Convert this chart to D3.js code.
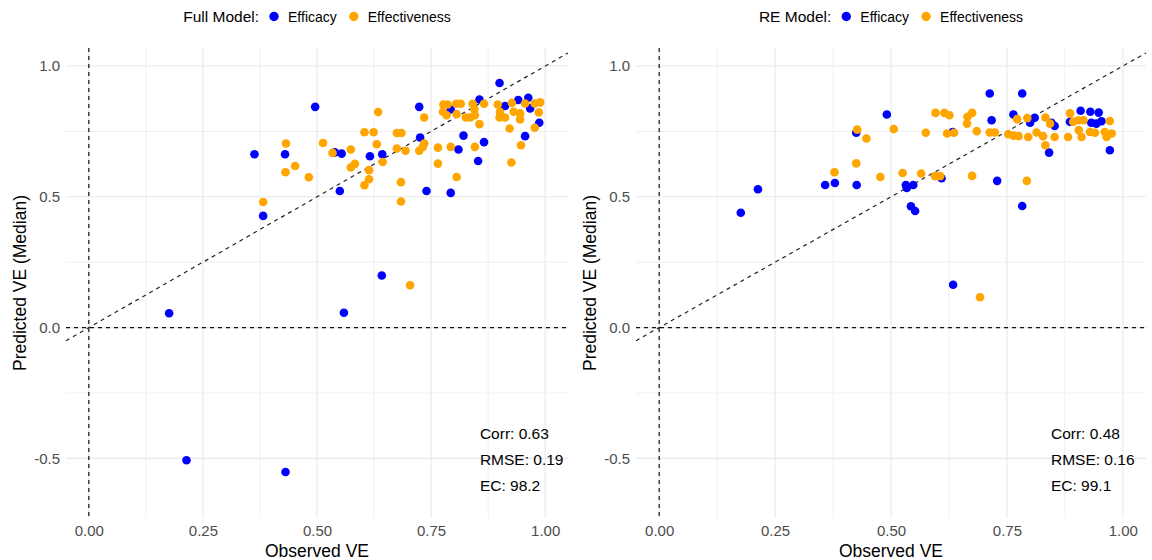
<!DOCTYPE html>
<html>
<head>
<meta charset="utf-8">
<title>Observed vs Predicted VE</title>
<style>
  body { margin: 0; background: #fff; }
  svg { display: block; font-family: "Liberation Sans", Arial, sans-serif; }
  .tick text { fill: #4d4d4d; }
</style>
<script src="https://cdn.jsdelivr.net/npm/d3@7"></script>
</head>
<body>
<svg id="chart" width="1152" height="560"></svg>
<script>
// [observed VE, predicted VE] pairs
var fullEfficacy = [
  [0.496,0.844],[0.363,0.663],[0.430,0.663],[0.539,0.670],[0.554,0.665],[0.550,0.522],
  [0.616,0.655],[0.643,0.663],[0.724,0.844],[0.726,0.727],[0.740,0.522],[0.810,0.681],
  [0.821,0.734],[0.793,0.515],[0.866,0.709],[0.853,0.637],[0.856,0.872],[0.900,0.935],
  [0.793,0.834],[0.912,0.847],[0.941,0.870],[0.963,0.879],[0.967,0.838],[0.987,0.783],
  [0.956,0.732],[0.382,0.427],[0.642,0.199],[0.176,0.055],[0.559,0.057],[0.214,-0.507],
  [0.431,-0.552]
];
var fullEffectiveness = [
  [0.432,0.704],[0.431,0.594],[0.452,0.618],[0.482,0.575],[0.382,0.480],[0.634,0.824],
  [0.513,0.706],[0.534,0.668],[0.574,0.681],[0.574,0.612],[0.583,0.626],[0.604,0.747],
  [0.624,0.747],[0.631,0.701],[0.644,0.633],[0.614,0.602],[0.614,0.567],[0.604,0.544],
  [0.675,0.744],[0.685,0.744],[0.675,0.685],[0.694,0.676],[0.684,0.556],[0.684,0.482],
  [0.735,0.803],[0.735,0.704],[0.732,0.691],[0.724,0.676],[0.765,0.688],[0.765,0.627],
  [0.793,0.691],[0.806,0.576],[0.846,0.691],[0.856,0.778],[0.777,0.853],[0.786,0.853],
  [0.805,0.856],[0.815,0.856],[0.841,0.856],[0.866,0.856],[0.776,0.825],[0.784,0.812],
  [0.806,0.816],[0.826,0.803],[0.836,0.803],[0.846,0.812],[0.845,0.834],[0.896,0.853],
  [0.901,0.825],[0.900,0.803],[0.912,0.803],[0.927,0.859],[0.931,0.825],[0.945,0.819],
  [0.945,0.796],[0.956,0.857],[0.977,0.857],[0.989,0.861],[0.986,0.823],[0.922,0.761],
  [0.977,0.764],[0.947,0.697],[0.926,0.631],[0.704,0.162]
];
var reEfficacy = [
  [0.176,0.439],[0.213,0.529],[0.358,0.545],[0.379,0.553],[0.426,0.545],[0.532,0.545],
  [0.534,0.534],[0.548,0.545],[0.543,0.464],[0.552,0.446],[0.609,0.571],[0.634,0.164],
  [0.425,0.745],[0.491,0.815],[0.633,0.748],[0.713,0.895],[0.717,0.793],[0.729,0.561],
  [0.783,0.895],[0.783,0.465],[0.764,0.815],[0.810,0.802],[0.800,0.783],[0.846,0.783],
  [0.853,0.771],[0.841,0.669],[0.886,0.787],[0.909,0.829],[0.930,0.825],[0.948,0.822],
  [0.932,0.783],[0.943,0.780],[0.954,0.789],[0.972,0.678]
];
var reEffectiveness = [
  [0.378,0.594],[0.425,0.628],[0.477,0.576],[0.525,0.591],[0.565,0.589],[0.595,0.579],
  [0.606,0.579],[0.675,0.580],[0.692,0.116],[0.427,0.757],[0.447,0.723],[0.506,0.759],
  [0.575,0.745],[0.596,0.821],[0.615,0.821],[0.626,0.812],[0.621,0.742],[0.636,0.745],
  [0.675,0.821],[0.665,0.806],[0.664,0.780],[0.685,0.751],[0.713,0.746],[0.724,0.746],
  [0.793,0.561],[0.753,0.739],[0.764,0.734],[0.775,0.732],[0.796,0.729],[0.814,0.746],
  [0.828,0.732],[0.833,0.697],[0.853,0.729],[0.772,0.797],[0.794,0.801],[0.833,0.803],
  [0.843,0.780],[0.882,0.729],[0.886,0.819],[0.893,0.787],[0.905,0.755],[0.911,0.729],
  [0.904,0.793],[0.915,0.793],[0.929,0.748],[0.940,0.745],[0.961,0.748],[0.976,0.742],
  [0.965,0.729],[0.972,0.790]
];

var modelNames = ['Full Model:', 'RE Model:'];
var seriesNames = ['Efficacy', 'Effectiveness'];
var seriesColors = ['#0000ff', '#ffa500'];
var statsLabels = [
  ['Corr: 0.63', 'RMSE: 0.19', 'EC: 98.2'],
  ['Corr: 0.48', 'RMSE: 0.16', 'EC: 99.1']
];
var xTicks = [0, 0.25, 0.5, 0.75, 1];
var xMinor = [0.125, 0.375, 0.625, 0.875];
var yTicks = [-0.5, 0, 0.5, 1];
var yMinor = [-0.25, 0.25, 0.75];

var panels = [
  { left: 66, right: 568, statX: 0.857, data: [fullEfficacy, fullEffectiveness] },
  { left: 636, right: 1146, statX: 0.845, data: [reEfficacy, reEffectiveness] }
];
var plotTop = 48, plotBottom = 518;

var svg = d3.select('#chart');
var fmtX = function(d){ return d3.format('.2f')(d); };
var fmtY = function(d){ return d3.format('.1f')(d).replace('\u2212', '-'); };

panels.forEach(function(p, pi){
  var x = d3.scaleLinear().domain([-0.05, 1.05]).range([p.left, p.right]);
  var y = d3.scaleLinear().domain([-0.728, 1.069]).range([plotBottom, plotTop]);
  var g = svg.append('g');

  // grid, minor first
  g.selectAll('.vminor').data(xMinor).enter().append('line')
    .attr('x1', x).attr('x2', x).attr('y1', plotTop).attr('y2', plotBottom)
    .attr('stroke', '#f0f0f0').attr('stroke-width', 1);
  g.selectAll('.hminor').data(yMinor).enter().append('line')
    .attr('x1', p.left).attr('x2', p.right).attr('y1', y).attr('y2', y)
    .attr('stroke', '#f0f0f0').attr('stroke-width', 1);
  g.selectAll('.vmajor').data(xTicks).enter().append('line')
    .attr('x1', x).attr('x2', x).attr('y1', plotTop).attr('y2', plotBottom)
    .attr('stroke', '#e8e8e8').attr('stroke-width', 1.1);
  g.selectAll('.hmajor').data(yTicks).enter().append('line')
    .attr('x1', p.left).attr('x2', p.right).attr('y1', y).attr('y2', y)
    .attr('stroke', '#e8e8e8').attr('stroke-width', 1.1);

  // axes (labels only)
  var xa = g.append('g').attr('transform', 'translate(0,' + plotBottom + ')')
    .call(d3.axisBottom(x).tickValues(xTicks).tickFormat(fmtX).tickSize(0).tickPadding(7));
  xa.select('.domain').remove();
  xa.selectAll('text').attr('font-size', 15).attr('font-family', null);
  var ya = g.append('g').attr('transform', 'translate(' + p.left + ',0)')
    .call(d3.axisLeft(y).tickValues(yTicks).tickFormat(fmtY).tickSize(0).tickPadding(6));
  ya.select('.domain').remove();
  ya.selectAll('text').attr('font-size', 15).attr('font-family', null);

  // reference lines
  g.append('line').attr('x1', p.left).attr('x2', p.right).attr('y1', y(0)).attr('y2', y(0))
    .attr('stroke', '#111').attr('stroke-width', 1.2).attr('stroke-dasharray', '4,4');
  g.append('line').attr('x1', x(0)).attr('x2', x(0)).attr('y1', plotTop).attr('y2', plotBottom)
    .attr('stroke', '#111').attr('stroke-width', 1.2).attr('stroke-dasharray', '4,4');
  g.append('line').attr('x1', x(-0.05)).attr('x2', x(1.05)).attr('y1', y(-0.05)).attr('y2', y(1.05))
    .attr('stroke', '#222').attr('stroke-width', 1.2).attr('stroke-dasharray', '4,4');

  // points
  p.data.forEach(function(series, si){
    g.selectAll('.pt' + si).data(series).enter().append('circle')
      .attr('cx', function(d){ return x(d[0]); })
      .attr('cy', function(d){ return y(d[1]); })
      .attr('r', 4.3).attr('fill', seriesColors[si]);
  });

  // stats text
  g.selectAll('.stat').data(statsLabels[pi]).enter().append('text')
    .attr('x', x(p.statX)).attr('y', function(d, i){ return 439 + i * 26; })
    .attr('font-size', 15.5).attr('fill', '#000').text(function(d){ return d; });

  // axis titles
  var cx = (p.left + p.right) / 2;
  g.append('text').attr('x', cx).attr('y', 557).attr('text-anchor', 'middle')
    .attr('font-size', 17.5).text('Observed VE');
  g.append('text').attr('transform', 'translate(' + (p.left - 40) + ',' + ((plotTop + plotBottom) / 2) + ') rotate(-90)')
    .attr('text-anchor', 'middle').attr('font-size', 17.5).text('Predicted VE (Median)');

  // legend
  var lg = g.append('g');
  var title = lg.append('text').attr('x', 0).attr('y', 21.5).attr('font-size', 15.5).text(modelNames[pi]);
  var cur = title.node().getComputedTextLength() + 15;
  seriesNames.forEach(function(name, si){
    lg.append('circle').attr('cx', cur).attr('cy', 16.5).attr('r', 4.7).attr('fill', seriesColors[si]);
    var t = lg.append('text').attr('x', cur + 14).attr('y', 21.5).attr('font-size', 14).text(name);
    cur += 14 + t.node().getComputedTextLength() + 17;
  });
  var w = cur - 17;
  lg.attr('transform', 'translate(' + (cx - w / 2) + ',0)');
});
</script>
</body>
</html>
